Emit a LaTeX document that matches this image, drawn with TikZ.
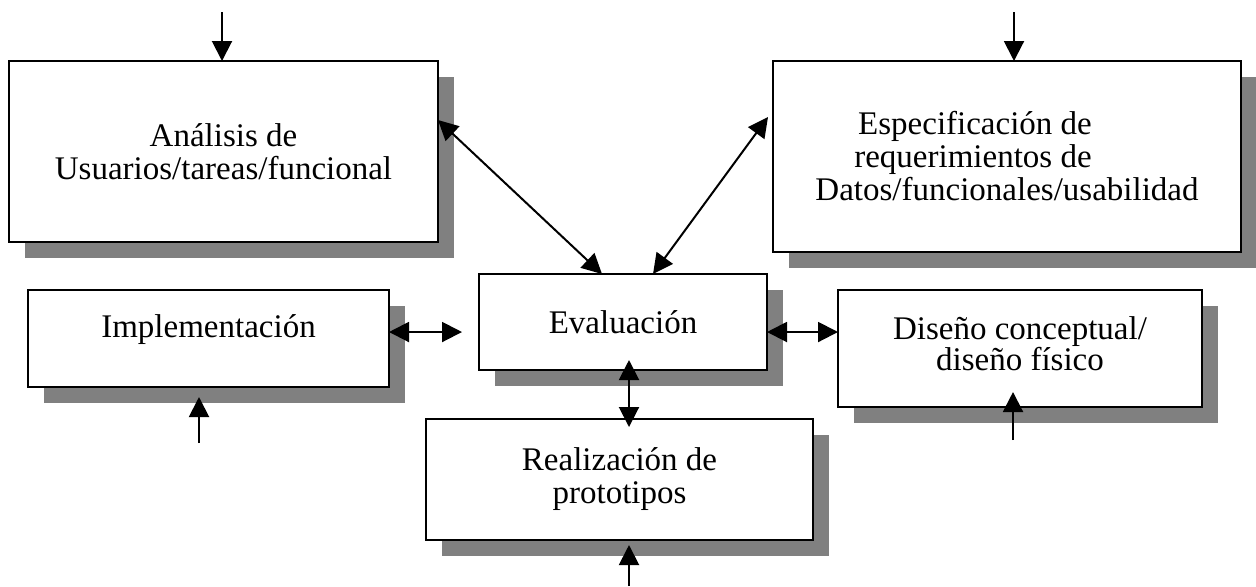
\documentclass[tikz,border=0pt]{standalone}
\usepackage{fontspec}
\setmainfont{Liberation Serif}
\usetikzlibrary{arrows.meta,shadows}

\tikzset{
  stage/.style={draw, rectangle, line width=1pt, fill=white, inner sep=0pt, outer sep=0pt,
    align=center, font=\fontsize{16.5}{16.5}\selectfont,
    drop shadow={shadow xshift=8pt, shadow yshift=-8pt, fill=gray, opacity=1}},
  flow/.style={line width=1pt, -{Triangle[length=10pt,width=10pt]}},
  both/.style={line width=1pt, {Triangle[length=10pt,width=10pt]}-{Triangle[length=10pt,width=10pt]}}
}

\begin{document}
\begin{tikzpicture}[x=0.5pt, y=-0.5pt]
                \useasboundingbox (0,0) rectangle (1256,586);

                \node[stage, minimum width=214.5pt, minimum height=90.5pt] (A) at (223.5,151.5) {An\'alisis de\\Usuarios/tareas/funcional};
                \node[stage, minimum width=234pt, minimum height=95.5pt] (E) at (1007,156.5) {Especificaci\'on de\hspace*{32pt}\mbox{}\\requerimientos de\hspace*{34pt}\mbox{}\\Datos/funcionales/usabilidad};
                \node[stage, minimum width=144pt, minimum height=48pt] (Ev) at (623,322) {\raisebox{-6pt}{Evaluaci\'on}};
                \node[stage, minimum width=180.5pt, minimum height=48.5pt] (I) at (208.5,338.5) {\raisebox{12pt}{Implementaci\'on}};
                \node[stage, minimum width=182pt, minimum height=58.5pt] (D) at (1020,348.5) {\raisebox{8pt}{\begin{tabular}{@{}c@{}}Dise\~no conceptual/\\[-1pt]dise\~no f\'isico\end{tabular}}};
                \node[stage, minimum width=193.5pt, minimum height=60.5pt] (R) at (619.5,479.5) {Realizaci\'on de\\prototipos};

                % free ends of the outer arrows
                \coordinate (inA) at (222,12);
                \coordinate (inE) at (1014,12);
                \coordinate (inI) at (199,443);
                \coordinate (inD) at (1013,440);
                \coordinate (inR) at (629,586);

                \draw[flow] (inA) -- (inA |- A.north);
                \draw[flow] (inE) -- (inE |- E.north);
                \draw[flow, shorten >=5pt] (inI) -- (inI |- I.south);
                \draw[flow, shorten >=-7.5pt] (inD) -- (inD |- D.south);
                \draw[flow, shorten >=2.5pt] (inR) -- (inR |- R.south);

                % links to the evaluation
                \draw[both] ([yshift=15.75pt]A.east) -- ([xshift=-10.5pt]Ev.north);
                \draw[both] ([xshift=-2.5pt, yshift=19.75pt]E.west) -- ([xshift=15pt]Ev.north);
                \draw[both, shorten >=8.5pt] ([yshift=3.25pt]I.east) -- ([yshift=3.25pt]I.east -| Ev.west);
                \draw[both] ([yshift=-5pt]Ev.east) -- ([yshift=-5pt]Ev.east -| D.west);
                \draw[both, shorten <=-5pt, shorten >=-4pt] (inR |- Ev.south) -- (inR |- R.north);
            \end{tikzpicture}
\end{document}
